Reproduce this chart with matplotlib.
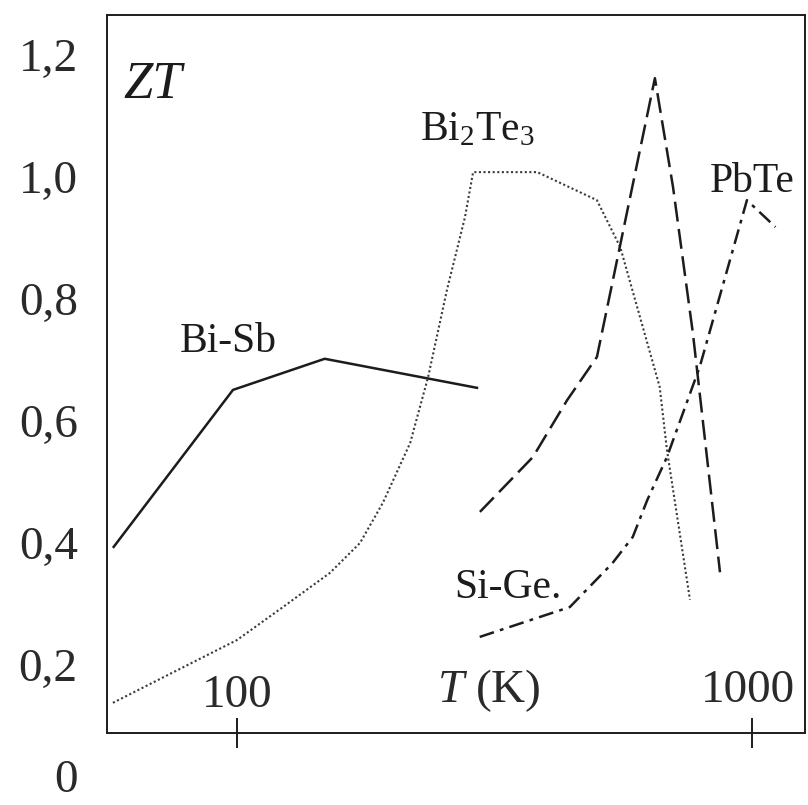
import matplotlib
matplotlib.use("Agg")
import matplotlib.pyplot as plt
import matplotlib.transforms as mtransforms

plt.rcParams['font.family'] = ['Liberation Serif', 'DejaVu Serif']
plt.rcParams['mathtext.fontset'] = 'custom'
plt.rcParams['mathtext.rm'] = 'Liberation Serif'
plt.rcParams['mathtext.it'] = 'Liberation Serif:italic'

# ---- data (T in K, ZT) ----
bisb_T = [57.4, 98.2, 148, 294]
bisb_ZT = [0.392, 0.651, 0.702, 0.654]

bi2te3_T = [57.4, 100, 122.8, 151.5, 173.3, 192, 216.9, 235, 255.7, 277.1, 287.4, 383, 500, 555, 662, 684, 758]
bi2te3_ZT = [0.138, 0.241, 0.295, 0.351, 0.400, 0.466, 0.564, 0.672, 0.815, 0.934, 1.008, 1.008, 0.962, 0.885, 0.656, 0.552, 0.307]

pbte_T = [296.3, 375.6, 437.5, 500, 648, 702.6, 768, 867]
pbte_ZT = [0.451, 0.541, 0.634, 0.705, 1.162, 0.984, 0.744, 0.352]

sige_T = [296, 443, 536, 587, 626, 684, 792, 978, 1111]
sige_ZT = [0.246, 0.295, 0.367, 0.410, 0.470, 0.541, 0.689, 0.962, 0.918]

ytick_vals = [0.2, 0.4, 0.6, 0.8, 1.0, 1.2]
ytick_labels = ['0,2', '0,4', '0,6', '0,8', '1,0', '1,2']
xtick_vals = [100, 1000]
xtick_labels = ['100', '1000']

fig = plt.figure(figsize=(8.08, 8.05), dpi=100)
ax = fig.add_axes([107/808, 1 - 733/805, 698/808, 718/805])
ax.set_xscale('log')
ax.set_xlim(55.9, 1268)
ax.set_ylim(0.0885, 1.2656)

ink = '#1c1c1c'
ax.plot(bisb_T, bisb_ZT, color=ink, lw=1.8, solid_capstyle='butt')
ax.plot(bi2te3_T, bi2te3_ZT, color='#3a3a3a', lw=1.5, linestyle=(0, (1, 1.2)))
ax.plot(pbte_T, pbte_ZT, color=ink, lw=1.8, linestyle=(0, (8, 3)))
ax.plot(sige_T, sige_ZT, color=ink, lw=1.8, linestyle=(0, (6, 2.5, 1.5, 2.5)))

for s in ax.spines.values():
    s.set_linewidth(1.4)
    s.set_color(ink)

ax.set_yticks(ytick_vals)
ax.set_yticklabels(ytick_labels)
ax.tick_params(axis='y', length=0, pad=21, labelsize=34, labelcolor='#2a2a2a')
ax.set_xticks(xtick_vals)
ax.set_xticklabels([])
ax.xaxis.set_minor_locator(matplotlib.ticker.NullLocator())
ax.tick_params(axis='x', which='major', direction='inout', length=22, width=1.4, color=ink)

trans = mtransforms.blended_transform_factory(ax.transData, ax.transAxes)
ax.text(100, 0.036, xtick_labels[0], transform=trans, ha='center', va='baseline', fontsize=34, color='#2a2a2a')
ax.text(982, 0.043, xtick_labels[1], transform=trans, ha='center', va='baseline', fontsize=34, color='#2a2a2a')

trans_y = mtransforms.blended_transform_factory(ax.transAxes, ax.transData)
ax.text(-29/698, -0.008, '0', transform=trans_y, ha='right', va='baseline', fontsize=34, color='#2a2a2a')

ax.text(0.023, 0.884, 'ZT', transform=ax.transAxes, ha='left', va='baseline', fontsize=38, style='italic', color=ink)
ax.text(0.547, 0.043, '$T$ (K)', transform=ax.transAxes, ha='center', va='baseline', fontsize=34, color='#2a2a2a')
ax.text(0.173, 0.531, 'Bi-Sb', transform=ax.transAxes, ha='center', va='baseline', fontsize=30, color=ink)
ax.text(0.530, 0.826, 'Bi$_2$Te$_3$', transform=ax.transAxes, ha='center', va='baseline', fontsize=30, color=ink)
ax.text(0.924, 0.753, 'PbTe', transform=ax.transAxes, ha='center', va='baseline', fontsize=30, color=ink)
ax.text(0.575, 0.188, 'Si-Ge.', transform=ax.transAxes, ha='center', va='baseline', fontsize=30, color=ink)

fig.savefig('out.png', dpi=100)
